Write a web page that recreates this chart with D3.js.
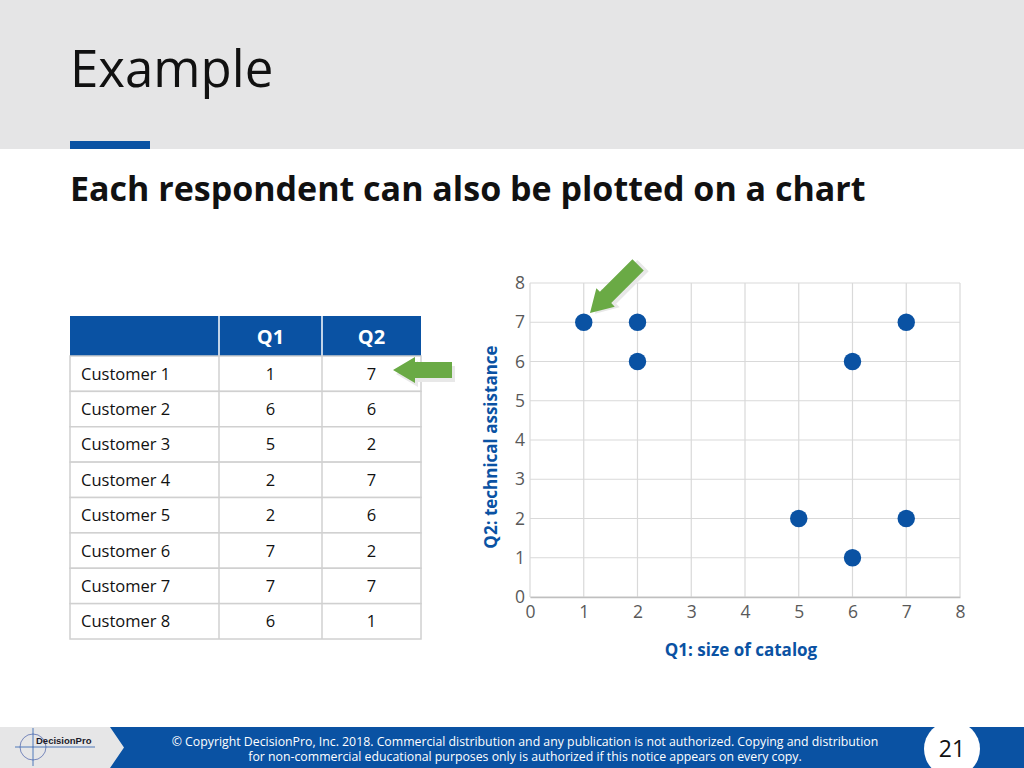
<!DOCTYPE html>
<html><head><meta charset="utf-8">
<script src="https://cdn.jsdelivr.net/npm/d3@7"></script>
<style>body{margin:0;background:#fff;}svg{display:block;font-family:"Open Sans",sans-serif;}</style>
</head><body>
<script>
const customers = ["Customer 1","Customer 2","Customer 3","Customer 4","Customer 5","Customer 6","Customer 7","Customer 8"];
const q1 = [1,6,5,2,2,7,7,6];
const q2 = [7,6,2,7,6,2,7,1];
const tableHeaders = ["", "Q1", "Q2"];
const xTicks = [0,1,2,3,4,5,6,7,8];
const yTicks = [0,1,2,3,4,5,6,7,8];
const titleText = "Example";
const subtitleText = "Each respondent can also be plotted on a chart";
const xLabel = "Q1: size of catalog";
const yLabel = "Q2: technical assistance";
const footerLines = ["© Copyright DecisionPro, Inc.  2018. Commercial distribution and any publication is not authorized. Copying and distribution","for non-commercial educational purposes only is authorized if this notice appears on every copy."];
const pageNumber = "21";

const W=1024,H=768;
const blue="#0a52a3", green="#6aaa45";
const svg=d3.select("body").append("svg").attr("width",W).attr("height",H);

// header
svg.append("rect").attr("width",W).attr("height",149).attr("fill","#e5e5e6");
svg.append("rect").attr("x",70).attr("y",141).attr("width",80).attr("height",8).attr("fill",blue);
svg.append("text").attr("x",70).attr("y",87).attr("font-size",51).attr("fill","#111").text(titleText);
svg.append("text").attr("x",70).attr("y",201).attr("font-size",34).attr("font-weight","bold").attr("fill","#111").text(subtitleText);

// table
const colX=[70,219,322,421];
const tTop=316, hdrH=40, rowH=(639-356)/8;
const tg=svg.append("g");
tg.append("rect").attr("x",colX[0]).attr("y",tTop).attr("width",colX[3]-colX[0]).attr("height",hdrH).attr("fill",blue);
tableHeaders.forEach((h,i)=>{
  tg.append("text").attr("x",(colX[i]+colX[i+1])/2).attr("y",tTop+28).attr("text-anchor","middle")
    .attr("font-size",20).attr("font-weight","bold").attr("fill","#fff").text(h);
});
[1,2].forEach(i=>tg.append("line").attr("x1",colX[i]).attr("x2",colX[i]).attr("y1",tTop).attr("y2",tTop+hdrH).attr("stroke","#fff").attr("stroke-width",1.5));
customers.forEach((c,r)=>{
  const y0=tTop+hdrH+r*rowH;
  tg.append("rect").attr("x",colX[0]).attr("y",y0).attr("width",colX[3]-colX[0]).attr("height",rowH).attr("fill","#fff").attr("stroke","#d0d0d0").attr("stroke-width",1.5);
  tg.append("text").attr("x",81).attr("y",y0+rowH/2+6).attr("font-size",16.5).attr("fill","#111").text(c);
  tg.append("text").attr("x",(colX[1]+colX[2])/2).attr("y",y0+rowH/2+6).attr("text-anchor","middle").attr("font-size",16.5).attr("fill","#111").text(q1[r]);
  tg.append("text").attr("x",(colX[2]+colX[3])/2).attr("y",y0+rowH/2+6).attr("text-anchor","middle").attr("font-size",16.5).attr("fill","#111").text(q2[r]);
});
[1,2].forEach(i=>tg.append("line").attr("x1",colX[i]).attr("x2",colX[i]).attr("y1",tTop+hdrH).attr("y2",tTop+hdrH+8*rowH).attr("stroke","#d0d0d0").attr("stroke-width",1.5));

// chart
const x=d3.scaleLinear().domain([0,8]).range([530,960]);
const y=d3.scaleLinear().domain([0,8]).range([597,283]);
const cg=svg.append("g");
cg.selectAll(".vg").data(xTicks).join("line").attr("x1",d=>x(d)).attr("x2",d=>x(d)).attr("y1",y(0)).attr("y2",y(8)).attr("stroke","#d9d9d9").attr("stroke-width",1.2);
cg.selectAll(".hg").data(yTicks).join("line").attr("x1",x(0)).attr("x2",x(8)).attr("y1",d=>y(d)).attr("y2",d=>y(d)).attr("stroke","#d9d9d9").attr("stroke-width",1.2);
const xa=cg.append("g").attr("transform",`translate(0,${y(0)})`).call(d3.axisBottom(x).tickValues(xTicks).tickSize(0).tickPadding(9).tickFormat(d3.format("d")));
const ya=cg.append("g").attr("transform",`translate(${x(0)},0)`).call(d3.axisLeft(y).tickValues(yTicks).tickSize(0).tickPadding(5).tickFormat(d3.format("d")));
[xa,ya].forEach(a=>{a.attr("font-size",17.5).attr("font-family","Open Sans");a.select(".domain").attr("stroke","#bfbfbf").attr("stroke-width",1.5);a.selectAll("text").attr("fill","#595959");});
ya.select(".domain").remove();
cg.selectAll("circle").data(q1.map((v,i)=>[v,q2[i]])).join("circle").attr("cx",d=>x(d[0])).attr("cy",d=>y(d[1])).attr("r",8.7).attr("fill",blue);
svg.append("text").attr("x",741).attr("y",656).attr("text-anchor","middle").attr("font-size",17).attr("font-weight","bold").attr("fill",blue).text(xLabel);
svg.append("text").attr("transform","translate(497,447) rotate(-90)").attr("text-anchor","middle").attr("font-size",17).attr("font-weight","bold").attr("fill",blue).text(yLabel);

// arrows
function arrow(tx,ty,len,angle){
  const g=svg.append("g").attr("transform",`translate(${tx},${ty}) rotate(${angle})`);
  const hw=13, hl=22, sw=8;
  const pts=[[0,0],[hl,-hw],[hl,-sw],[len,-sw],[len,sw],[hl,sw],[hl,hw]];
  g.append("polygon").attr("points",pts.map(p=>[p[0]+3,p[1]+4].join(",")).join(" ")).attr("fill","#e8e8e8");
  g.append("polygon").attr("points",pts.map(p=>p.join(",")).join(" ")).attr("fill",green);
}
arrow(393,370,59,0);
arrow(590,313,68,-45);

// footer
svg.append("rect").attr("x",0).attr("y",727).attr("width",W).attr("height",41).attr("fill","#e6e6e7");
svg.append("polygon").attr("points","110,727 1024,727 1024,768 110,768 124,747.5").attr("fill",blue);
// logo
const lg=svg.append("g");
lg.append("circle").attr("cx",33).attr("cy",747).attr("r",13).attr("fill","none").attr("stroke","#5a6fb0").attr("stroke-width",0.8);
lg.append("line").attr("x1",15).attr("x2",95).attr("y1",747).attr("y2",747).attr("stroke","#2a5db0").attr("stroke-width",0.8);
lg.append("line").attr("x1",33).attr("x2",33).attr("y1",728).attr("y2",766).attr("stroke","#2a5db0").attr("stroke-width",0.8);
lg.append("text").attr("x",36).attr("y",744).attr("font-size",9.5).attr("font-weight","bold").attr("font-family","Liberation Sans").attr("fill","#1a1a2a").text("DecisionPro");
footerLines.forEach((l,i)=>svg.append("text").attr("x",525).attr("y",746+i*15).attr("text-anchor","middle").attr("font-size",12.3).attr("fill","#fff").text(l));
svg.append("circle").attr("cx",952).attr("cy",749).attr("r",28).attr("fill","#fff");
svg.append("text").attr("x",952).attr("y",757).attr("text-anchor","middle").attr("font-size",23).attr("fill","#111").text(pageNumber);
</script>
</body></html>
